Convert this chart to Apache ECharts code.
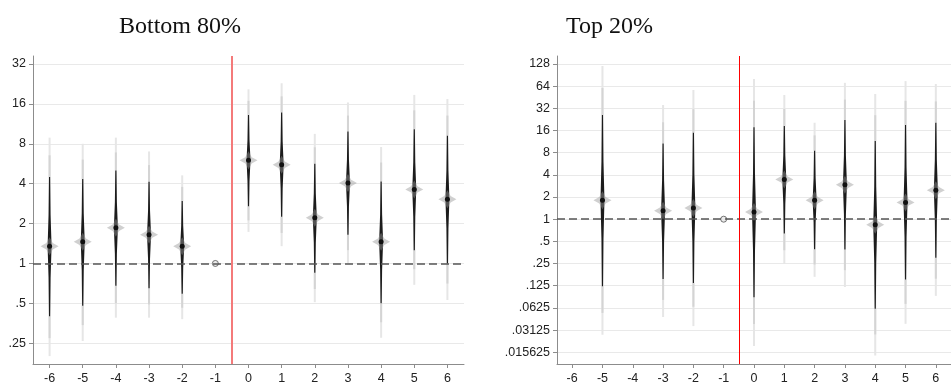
<!DOCTYPE html>
<html><head><meta charset="utf-8">
<script src="https://cdn.jsdelivr.net/npm/echarts@6/dist/echarts.min.js"></script>
<style>html,body{margin:0;padding:0;background:#fff}#c{width:951px;height:385px}</style>
</head><body><div id="c"></div>
<script>
// ---------- data ----------
const xTickValues = [-6,-5,-4,-3,-2,-1,0,1,2,3,4,5,6];
const leftYTickValues = [0.25,0.5,1,2,4,8,16,32];
const leftYTickLabels = ['.25','.5','1','2','4','8','16','32'];
const rightYTickValues = [0.015625,0.03125,0.0625,0.125,0.25,0.5,1,2,4,8,16,32,64,128];
const rightYTickLabels = ['.015625','.03125','.0625','.125','.25','.5','1','2','4','8','16','32','64','128'];

const panelTitles = ['Bottom 80%','Top 20%'];
const referencePeriod = -1;
const referenceValue = 1;
const eventLine = -0.5;

// Bottom 80%
const b80Period  = [-6,-5,-4,-3,-2,0,1,2,3,4,5,6];
const b80Est     = [1.35,1.46,1.86,1.65,1.35,6.0,5.56,2.21,4.05,1.46,3.62,3.05];
const b80OuterLo = [0.20,0.26,0.39,0.39,0.38,1.73,1.35,0.51,1.01,0.275,0.69,0.53];
const b80InnerLo = [0.40,0.48,0.68,0.65,0.59,2.7,2.25,0.85,1.65,0.50,1.26,1.0];
const b80InnerHi = [4.5,4.34,5.03,4.14,2.96,13.2,13.8,5.66,9.9,4.16,10.3,9.2];
const b80OuterHi = [8.9,8.0,8.9,7.0,4.62,20.6,22.9,9.5,16.4,7.56,18.7,17.4];

// Top 20%
const t20Period  = [-5,-3,-2,0,1,2,3,4,5,6];
const t20Est     = [1.81,1.3,1.42,1.25,3.47,1.81,2.93,0.84,1.69,2.48];
const t20OuterLo = [0.027,0.047,0.0354,0.019,0.247,0.165,0.12,0.0141,0.038,0.091];
const t20InnerLo = [0.123,0.154,0.136,0.087,0.64,0.39,0.387,0.061,0.152,0.30];
const t20InnerHi = [26,10.7,14.9,17.7,18.4,8.48,22.2,11.5,19,20.4];
const t20OuterHi = [120,35.5,56.8,80,48.5,20.4,71,50,75,68.5];

// ---------- chart ----------
const log2 = v => Math.log2(v);
function buildRows(px, est, oLo, iLo, iHi, oHi) {
  return px.map((x, i) => [x, log2(est[i]), log2(oLo[i]), log2(iLo[i]), log2(iHi[i]), log2(oHi[i])]);
}
function lerp(a, b, t) { return a + (b - a) * t; }

function renderViolin(params, api) {
  const x = api.value(0);
  const pe = api.coord([x, api.value(1)]);
  const oLo = api.coord([x, api.value(2)])[1];
  const iLo = api.coord([x, api.value(3)])[1];
  const iHi = api.coord([x, api.value(4)])[1];
  const oHi = api.coord([x, api.value(5)])[1];
  const cx = pe[0], py = pe[1];
  const upMid = lerp(iHi, py, 0.55), dnMid = lerp(py, iLo, 0.45);
  return {
    type: 'group',
    children: [
      { type: 'line', shape: { x1: cx, y1: oHi, x2: cx, y2: oLo }, style: { stroke: '#e6e6e6', lineWidth: 2 } },
      { type: 'line', shape: { x1: cx, y1: lerp(oHi, iHi, 0.45), x2: cx, y2: iHi }, style: { stroke: '#d4d4d4', lineWidth: 2 } },
      { type: 'line', shape: { x1: cx, y1: iLo, x2: cx, y2: lerp(oLo, iLo, 0.45) }, style: { stroke: '#d4d4d4', lineWidth: 2 } },
      { type: 'polygon', shape: { points: [
          [cx - 0.6, iHi], [cx + 0.6, iHi], [cx + 1.0, upMid], [cx + 2.0, py], [cx + 1.0, dnMid],
          [cx + 0.6, iLo], [cx - 0.6, iLo], [cx - 1.0, dnMid], [cx - 2.0, py], [cx - 1.0, upMid]] },
        style: { fill: '#1c1c1c' } },
      { type: 'polygon', shape: { points: [
          [cx - 9, py], [cx - 3.2, py - 3.2], [cx, py - 9], [cx + 3.2, py - 3.2],
          [cx + 9, py], [cx + 3.2, py + 3.2], [cx, py + 9], [cx - 3.2, py + 3.2]] },
        style: { fill: 'rgba(150,150,150,0.45)' } },
      { type: 'circle', shape: { cx: cx, cy: py, r: 2.5 }, style: { fill: '#111' } }
    ]
  };
}

const fmtFactory = (vals, labels) => (v) => {
  for (let i = 0; i < vals.length; i++) if (Math.abs(log2(vals[i]) - v) < 1e-6) return labels[i];
  return '';
};

function xAxisDef(gi) {
  return {
    type: 'value', gridIndex: gi, min: -6.5, max: 6.5,
    axisLine: { show: true, onZero: false, lineStyle: { color: '#8c8c8c', width: 1 } },
    axisTick: { show: true, length: 4, lineStyle: { color: '#8c8c8c' }, customValues: xTickValues },
    axisLabel: { customValues: xTickValues, color: '#222', fontFamily: '"Liberation Sans", Arial', fontSize: 12.5, margin: 8 },
    splitLine: { show: false }
  };
}
function yAxisDef(gi, vals, labels, min, max) {
  const cv = vals.map(log2);
  return {
    type: 'value', gridIndex: gi, min: min, max: max,
    axisLine: { show: true, onZero: false, lineStyle: { color: '#8c8c8c', width: 1 } },
    axisTick: { show: true, length: 4, lineStyle: { color: '#8c8c8c' }, customValues: cv },
    axisLabel: { customValues: cv, formatter: fmtFactory(vals, labels), color: '#222', fontFamily: '"Liberation Sans", Arial', fontSize: 12.5, margin: 7 },
    splitLine: { show: true, lineStyle: { color: '#e9e9e9', width: 1 } }
  };
}

function refSeries(gi, vlineColor, vlineWidth) {
  return [
    { type: 'line', xAxisIndex: gi, yAxisIndex: gi, data: [], z: 1,
      markLine: { silent: true, symbol: 'none', label: { show: false },
        data: [{ yAxis: log2(referenceValue) }],
        lineStyle: { color: '#555', width: 1.6, type: [8, 4] } } },
    { type: 'scatter', xAxisIndex: gi, yAxisIndex: gi, z: 4,
      data: [[referencePeriod, log2(referenceValue)]], symbol: 'circle', symbolSize: 6,
      itemStyle: { color: '#e6e6e6', borderColor: '#555', borderWidth: 1 } },
    { type: 'line', xAxisIndex: gi, yAxisIndex: gi, data: [], z: 5,
      markLine: { silent: true, symbol: 'none', label: { show: false },
        data: [{ xAxis: eventLine }],
        lineStyle: { color: vlineColor, width: vlineWidth, type: 'solid' } } }
  ];
}

const chart = echarts.init(document.getElementById('c'), null, { renderer: 'canvas' });
chart.setOption({
  animation: false,
  backgroundColor: '#fff',
  graphic: [
    { type: 'text', x: 119, y: 27, style: { text: panelTitles[0], font: '24px "Liberation Serif", "Times New Roman", serif', fill: '#111', verticalAlign: 'middle' } },
    { type: 'text', x: 566, y: 27, style: { text: panelTitles[1], font: '24px "Liberation Serif", "Times New Roman", serif', fill: '#111', verticalAlign: 'middle' } }
  ],
  grid: [
    { left: 33, top: 56, width: 431, height: 308 },
    { left: 557, top: 56, width: 404.5, height: 308 }
  ],
  xAxis: [xAxisDef(0), xAxisDef(1)],
  yAxis: [
    yAxisDef(0, leftYTickValues, leftYTickLabels, -2.52, 5.2),
    yAxisDef(1, rightYTickValues, rightYTickLabels, -6.53, 7.36)
  ],
  series: [
    ...refSeries(0, '#f47a7a', 2),
    { type: 'custom', xAxisIndex: 0, yAxisIndex: 0, z: 3, renderItem: renderViolin,
      data: buildRows(b80Period, b80Est, b80OuterLo, b80InnerLo, b80InnerHi, b80OuterHi) },
    ...refSeries(1, '#ff0000', 1),
    { type: 'custom', xAxisIndex: 1, yAxisIndex: 1, z: 3, renderItem: renderViolin,
      data: buildRows(t20Period, t20Est, t20OuterLo, t20InnerLo, t20InnerHi, t20OuterHi) }
  ]
});
</script>
</body></html>
